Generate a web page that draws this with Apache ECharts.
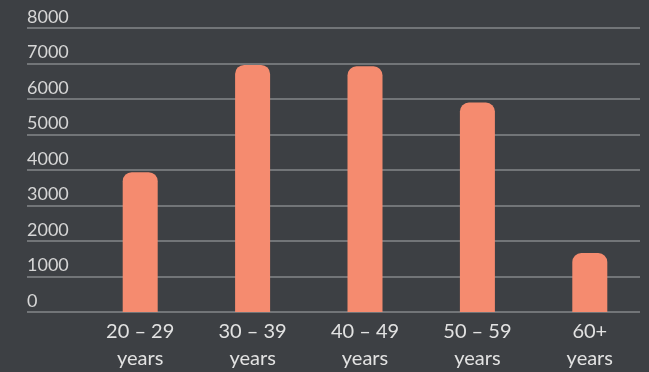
<!DOCTYPE html>
<html>
<head>
<meta charset="utf-8">
<script src="https://cdn.jsdelivr.net/npm/echarts@6/dist/echarts.min.js"></script>
<style>
  html, body { margin: 0; padding: 0; background: #3d4044; }
  #main { width: 649px; height: 372px; }
</style>
</head>
<body>
<div id="main"></div>
<script>
// 年龄段
const categories = ['20 – 29\nyears', '30 – 39\nyears', '40 – 49\nyears', '50 – 59\nyears', '60+\nyears'];
// 人数
const values = [3940, 6960, 6920, 5900, 1660];
const yMax = 8000;
const yStep = 1000;

const chart = echarts.init(document.getElementById('main'));
const option = {
  backgroundColor: '#3d4044',
  animation: false,
  grid: [
    // 背景网格线
    { left: 27, right: 9, top: 28, bottom: 60 },
    // 柱子
    { left: 84, right: 3, top: 28, bottom: 60 },
  ],
  xAxis: [
    { gridIndex: 0, type: 'value', show: false },
    {
      gridIndex: 1,
      type: 'category',
      data: categories,
      axisLine: { show: false },
      axisTick: { show: false },
      axisLabel: {
        color: '#e2e2e2',
        fontFamily: 'Lato',
        fontSize: 20,
        lineHeight: 27,
        margin: 6,
      },
    },
  ],
  yAxis: [
    {
      gridIndex: 0,
      type: 'value',
      min: 0,
      max: yMax,
      interval: yStep,
      axisLine: { show: false },
      axisTick: { show: false },
      splitLine: { lineStyle: { color: '#85878a', width: 1.5 } },
      axisLabel: {
        inside: true,
        margin: 0,
        color: '#d6d6d6',
        fontFamily: 'Lato',
        fontSize: 18,
        verticalAlign: 'bottom',
        padding: [0, 0, 2, 0],
        formatter: v => String(v),
      },
    },
    {
      gridIndex: 1,
      type: 'value',
      min: 0,
      max: yMax,
      interval: yStep,
      show: false,
      splitLine: { show: false },
    },
  ],
  series: [
    {
      type: 'bar',
      xAxisIndex: 1,
      yAxisIndex: 1,
      data: values,
      barWidth: 35,
      itemStyle: { color: '#f58b6f', borderRadius: [9, 9, 0, 0] },
    },
  ],
};
chart.setOption(option);
</script>
</body>
</html>
